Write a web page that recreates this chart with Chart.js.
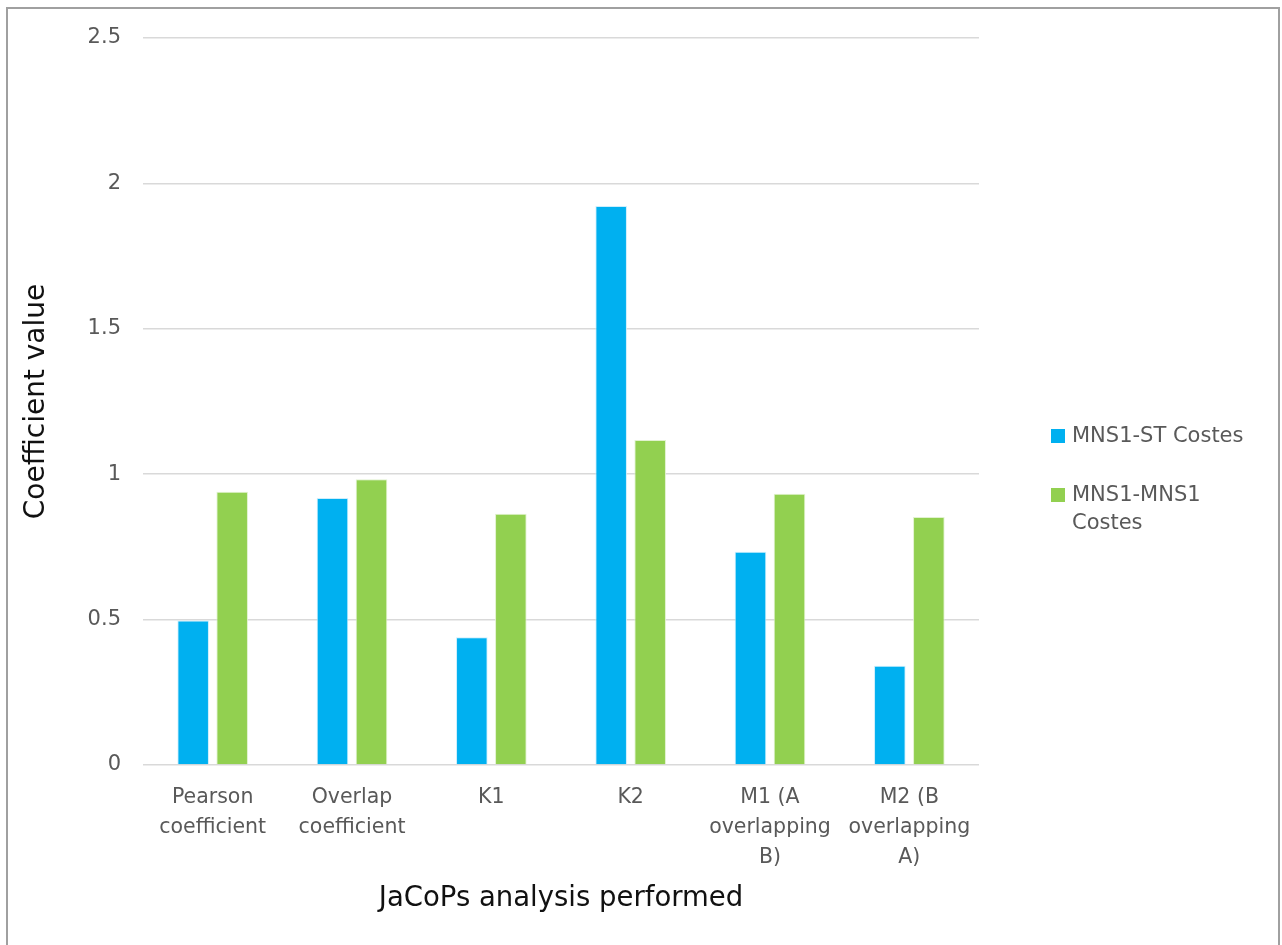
<!DOCTYPE html>
<html>
<head>
<meta charset="utf-8">
<script src="https://cdn.jsdelivr.net/npm/chart.js@4/dist/chart.umd.min.js"></script>
<style>
  html, body { margin: 0; padding: 0; background: #ffffff; overflow: hidden; }
  canvas { display: block; }
</style>
</head>
<body>
<canvas id="chart" width="1282" height="945"></canvas>
<script>
// Categories (multi-line labels) and the two series of coefficient values
const categories = [
  ["Pearson", "coefficient"],
  ["Overlap", "coefficient"],
  "K1",
  "K2",
  ["M1 (A", "overlapping", "B)"],
  ["M2 (B", "overlapping", "A)"]
];
const seriesNames = ["MNS1-ST Costes", "MNS1-MNS1 Costes"];
const stCostes = [0.497, 0.918, 0.439, 1.922, 0.733, 0.341];
const mnsCostes = [0.940, 0.983, 0.864, 1.118, 0.933, 0.853];
const yTickValues = [0, 0.5, 1, 1.5, 2, 2.5];
const xAxisTitle = "JaCoPs analysis performed";
const yAxisTitle = "Coefficient value";

const BLUE = "#00b0f0";
const GREEN = "#92d050";
const SANS = "'DejaVu Sans', 'Liberation Sans', sans-serif";

// Outer frame around the whole figure
const framePlugin = {
  id: "frame",
  afterDraw(chart) {
    const ctx = chart.ctx;
    ctx.save();
    ctx.strokeStyle = "#a0a0a0";
    ctx.lineWidth = 2;
    ctx.strokeRect(7, 8, chart.width - 10, chart.height + 20);
    ctx.restore();
  }
};

// Legend on the right, with wrapped series names
const sideLegend = {
  id: "sideLegend",
  afterDraw(chart, args, opts) {
    const ctx = chart.ctx;
    const area = chart.chartArea;
    const boxX = area.right + opts.boxOffset;
    const textX = area.right + opts.textOffset;
    const maxW = opts.maxWidth;
    ctx.save();
    ctx.font = opts.font;
    ctx.textBaseline = "alphabetic";
    ctx.textAlign = "left";
    let y = opts.firstBaseline;
    chart.data.datasets.forEach((ds) => {
      // wrap words into lines
      const words = ds.label.split(" ");
      const lines = [];
      let cur = "";
      words.forEach((w) => {
        const test = cur ? cur + " " + w : w;
        if (cur && ctx.measureText(test).width > maxW) {
          lines.push(cur);
          cur = w;
        } else {
          cur = test;
        }
      });
      if (cur) lines.push(cur);
      ctx.fillStyle = ds.backgroundColor;
      ctx.fillRect(boxX, y - opts.boxSize + 1, opts.boxSize, opts.boxSize);
      ctx.fillStyle = opts.color;
      lines.forEach((ln, i) => ctx.fillText(ln, textX, y + i * opts.lineHeight));
      y += (lines.length - 1) * opts.lineHeight + opts.itemGap;
    });
    ctx.restore();
  }
};

new Chart(document.getElementById("chart"), {
  type: "bar",
  data: {
    labels: categories,
    datasets: [
      {
        label: seriesNames[0],
        data: stCostes,
        backgroundColor: BLUE,
        borderColor: "rgba(200,236,252,0.9)",
        borderWidth: 1
      },
      {
        label: seriesNames[1],
        data: mnsCostes,
        backgroundColor: GREEN,
        borderColor: "rgba(222,241,202,0.9)",
        borderWidth: 1
      }
    ]
  },
  options: {
    responsive: false,
    animation: false,
    devicePixelRatio: 1,
    layout: { padding: { left: 0, top: 38, right: 303, bottom: 0 } },
    datasets: { bar: { categoryPercentage: 0.56, barPercentage: 0.81 } },
    plugins: {
      legend: { display: false },
      tooltip: { enabled: false },
      sideLegend: {
        boxOffset: 72,
        textOffset: 93,
        boxSize: 14,
        firstBaseline: 442,
        lineHeight: 28,
        itemGap: 59,
        maxWidth: 185,
        font: "21px " + SANS,
        color: "#595959"
      }
    },
    scales: {
      x: {
        grid: { display: false, drawTicks: false },
        border: { display: false },
        ticks: {
          color: "#595959",
          font: { family: SANS, size: 20.5, lineHeight: 30 / 20.5 },
          padding: 18,
          maxRotation: 0,
          autoSkip: false
        },
        title: {
          display: true,
          text: xAxisTitle,
          color: "#111111",
          font: { family: SANS, size: 27.5 },
          padding: { top: 0, bottom: 29.5 }
        },
        afterFit(scale) { scale.height = 180; }
      },
      y: {
        min: 0,
        max: 2.5,
        afterBuildTicks(scale) {
          scale.ticks = yTickValues.map((v) => ({ value: v }));
        },
        grid: { color: "#d9d9d9", lineWidth: 1.5, drawTicks: false },
        border: { display: false },
        ticks: {
          color: "#595959",
          font: { family: SANS, size: 21 },
          padding: 22,
          callback: (v) => String(v)
        },
        title: {
          display: true,
          text: yAxisTitle,
          color: "#111111",
          font: { family: SANS, size: 28 },
          padding: { top: 20, bottom: 0 }
        },
        afterFit(scale) { scale.width = 143; }
      }
    }
  },
  plugins: [framePlugin, sideLegend]
});
</script>
</body>
</html>
